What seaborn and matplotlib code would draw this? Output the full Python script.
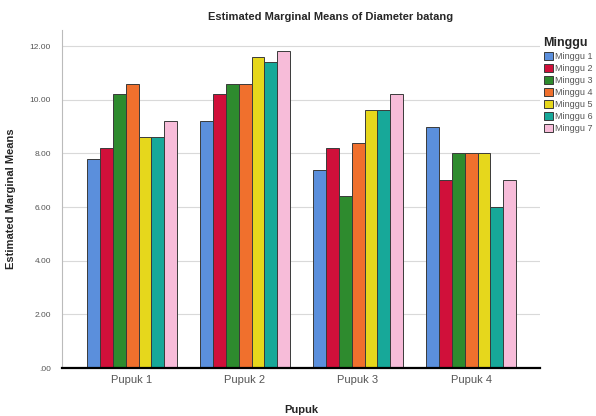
import numpy as np
import pandas as pd
import matplotlib
matplotlib.use("Agg")
import matplotlib.pyplot as plt
import seaborn as sns

# ==========================================================
# DATA
# ==========================================================

pupuk = ["Pupuk 1", "Pupuk 2", "Pupuk 3", "Pupuk 4"]
minggu = ["Minggu 1", "Minggu 2", "Minggu 3", "Minggu 4",
          "Minggu 5", "Minggu 6", "Minggu 7"]

means_p1 = [7.8, 8.2, 10.2, 10.6, 8.6, 8.6, 9.2]
means_p2 = [9.2, 10.2, 10.6, 10.6, 11.6, 11.4, 11.8]
means_p3 = [7.4, 8.2, 6.4, 8.4, 9.6, 9.6, 10.2]
means_p4 = [9.0, 7.0, 8.0, 8.0, 8.0, 6.0, 7.0]

y_ticks = [0, 2, 4, 6, 8, 10, 12]
y_tick_labels = [".00", "2.00", "4.00", "6.00", "8.00", "10.00", "12.00"]

colors = ["#5b8fdc", "#d0103a", "#2e8b2e", "#f0702d",
          "#e6d71c", "#17a899", "#f7bcd9"]

rows = []
for name, vals in zip(pupuk, [means_p1, means_p2, means_p3, means_p4]):
    for m, v in zip(minggu, vals):
        rows.append({"Pupuk": name, "Minggu": m, "Mean": v})
df = pd.DataFrame(rows)

# ==========================================================
# PLOT
# ==========================================================

sns.set_style("white")
plt.rcParams["font.family"] = ["Liberation Sans", "DejaVu Sans"]

fig = plt.figure(figsize=(5.96, 4.16), dpi=100)
ax = fig.add_axes([0.104, 0.115, 0.802, 0.813])

sns.barplot(data=df, x="Pupuk", y="Mean", hue="Minggu",
            palette=colors, saturation=1, width=0.8, edgecolor="#3a3a3a",
            linewidth=0.7, ax=ax, zorder=3)

ax.set_xlim(-0.62, 3.61)
ax.set_ylim(0, 12.6)
ax.set_yticks(y_ticks)
ax.set_yticklabels(y_tick_labels, fontsize=6, color="#555555")
ax.tick_params(axis="x", labelsize=8, colors="#555555", length=0, pad=5)
ax.tick_params(axis="y", length=0, pad=8)

ax.yaxis.grid(True, color="#d9d9d9", linewidth=0.8, zorder=0)
ax.set_axisbelow(True)

for side in ["top", "right"]:
    ax.spines[side].set_visible(False)
ax.spines["left"].set_color("#bbbbbb")
ax.spines["left"].set_linewidth(0.8)
ax.spines["bottom"].set_color("black")
ax.spines["bottom"].set_linewidth(1.6)
ax.spines["bottom"].set_zorder(5)

ax.set_xlabel("Pupuk", fontsize=8, fontweight="bold", labelpad=14)
ax.set_ylabel("Estimated Marginal Means", fontsize=8, fontweight="bold", labelpad=10)
fig.text(0.555, 0.958, "Estimated Marginal Means of Diameter batang",
         ha="center", va="center", fontsize=8, fontweight="bold")

leg = ax.legend(title="Minggu", loc="upper left", bbox_to_anchor=(1.0, 0.99),
                frameon=False, fontsize=6.5, title_fontsize=9,
                handlelength=1.0, handleheight=1.0, handletextpad=0.25,
                labelspacing=0.32, borderaxespad=0.0, alignment="left")
leg.get_title().set_fontweight("bold")
for t in leg.get_texts():
    t.set_color("#555555")

fig.savefig("out.png", dpi=100)
plt.close(fig)
